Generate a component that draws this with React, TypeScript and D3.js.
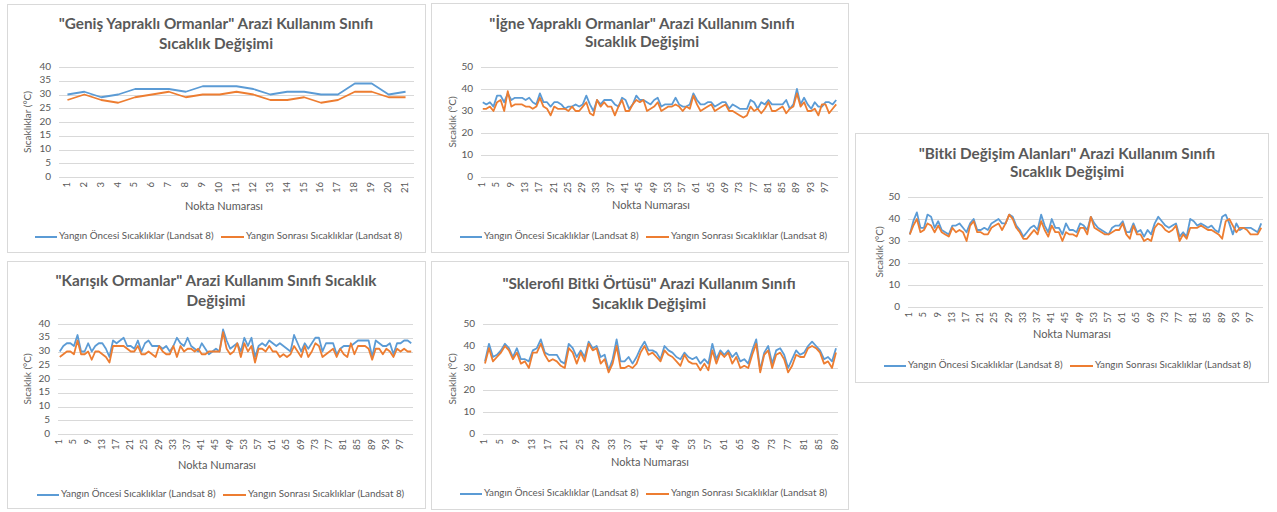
import { useMemo } from 'react';
import * as d3 from 'd3';

const W = 1277;
const H = 512;

const BLUE = '#5b9bd5';
const ORANGE = '#ed7d31';
const TEXT = '#595959';
const GRID = '#d9d9d9';
const FONT = 'Lato, Carlito, "Open Sans", sans-serif';

// --- data ---
const genisBefore = [30, 31, 29, 30, 32, 32, 32, 31, 33, 33, 33, 32, 30, 31, 31, 30, 30, 34, 34, 30, 31];
const genisAfter = [28, 30, 28, 27, 29, 30, 31, 29, 30, 30, 31, 30, 28, 28, 29, 27, 28, 31, 31, 29, 29];

const igneBefore = [
  34, 33, 34, 32, 37, 37, 34, 38, 35, 36,
  36, 36, 35, 36, 34, 33, 38, 34, 34, 32,
  34, 34, 33, 31, 32, 32, 33, 32, 33, 37,
  33, 30, 35, 33, 35, 35, 35, 33, 32, 36,
  35, 31, 33, 37, 35, 35, 34, 33, 35, 36,
  32, 33, 33, 33, 36, 33, 32, 32, 33, 38,
  35, 33, 33, 34, 34, 32, 33, 34, 34, 31,
  33, 32, 31, 31, 31, 35, 34, 31, 34, 33,
  35, 33, 33, 33, 33, 35, 31, 33, 40, 33,
  36, 33, 31, 34, 32, 32, 34, 34, 33, 35,
];
const igneAfter = [
  31, 31, 32, 30, 34, 35, 30, 39, 32, 33,
  33, 33, 32, 32, 31, 32, 36, 32, 31, 28,
  32, 31, 31, 31, 30, 32, 30, 30, 32, 34,
  29, 28, 35, 32, 34, 32, 32, 28, 32, 35,
  30, 30, 33, 35, 34, 35, 30, 31, 32, 34,
  30, 31, 32, 32, 33, 32, 30, 32, 31, 37,
  33, 30, 31, 32, 33, 30, 31, 32, 33, 30,
  30, 29, 28, 27, 28, 32, 30, 31, 29, 31,
  34, 30, 30, 31, 32, 29, 31, 32, 38, 32,
  34, 30, 30, 31, 28, 33, 33, 29, 31, 33,
];

const bitkiBefore = [
  33, 39, 43, 36, 36, 42, 41, 36, 39, 35,
  34, 33, 37, 37, 38, 36, 34, 38, 40, 35,
  35, 36, 35, 38, 39, 40, 38, 38, 42, 41,
  37, 35, 32, 34, 36, 37, 35, 42, 37, 34,
  40, 36, 36, 33, 38, 35, 35, 34, 38, 37,
  35, 41, 38, 36, 35, 34, 33, 36, 37, 37,
  39, 34, 34, 38, 34, 35, 32, 35, 33, 38,
  41, 39, 37, 36, 37, 38, 32, 34, 32, 40,
  39, 37, 38, 37, 36, 37, 35, 34, 41, 42,
  38, 33, 38, 35, 36, 36, 36, 35, 34, 38,
];
const bitkiAfter = [
  33, 37, 40, 34, 35, 38, 37, 34, 37, 34,
  33, 32, 36, 34, 35, 34, 30, 37, 39, 34,
  34, 33, 33, 36, 37, 38, 35, 38, 42, 40,
  36, 34, 31, 31, 33, 35, 33, 39, 35, 32,
  37, 34, 34, 30, 34, 33, 33, 32, 36, 36,
  33, 41, 36, 35, 34, 33, 33, 34, 35, 35,
  38, 33, 31, 37, 33, 33, 30, 31, 30, 36,
  38, 37, 35, 34, 35, 37, 30, 33, 31, 36,
  36, 36, 37, 36, 35, 35, 34, 33, 31, 39,
  40, 37, 34, 36, 36, 35, 33, 33, 33, 36,
];

const karisikBefore = [
  30, 32, 33, 33, 32, 36, 30, 30, 33, 30,
  32, 33, 33, 31, 28, 34, 33, 34, 35, 32,
  32, 31, 34, 30, 33, 34, 32, 32, 32, 31,
  32, 30, 32, 35, 33, 32, 35, 32, 31, 30,
  33, 31, 29, 30, 31, 30, 38, 34, 31, 32,
  33, 30, 35, 32, 35, 28, 32, 33, 32, 34,
  33, 32, 33, 32, 31, 30, 36, 33, 30, 33,
  31, 33, 35, 35, 30, 33, 33, 33, 29, 31,
  32, 32, 32, 33, 34, 34, 34, 34, 28, 34,
  33, 32, 32, 33, 29, 33, 33, 34, 34, 33,
];
const karisikAfter = [
  28, 29, 30, 30, 29, 34, 29, 29, 30, 27,
  30, 30, 29, 28, 26, 32, 32, 32, 32, 31,
  30, 30, 32, 29, 29, 30, 29, 28, 32, 30,
  29, 29, 32, 28, 32, 30, 31, 31, 30, 31,
  29, 29, 30, 30, 30, 30, 37, 31, 29, 30,
  33, 28, 33, 30, 32, 26, 31, 31, 30, 32,
  30, 30, 28, 29, 28, 29, 32, 30, 28, 32,
  28, 30, 33, 32, 28, 29, 30, 31, 28, 31,
  29, 28, 33, 29, 32, 32, 32, 31, 27, 31,
  31, 29, 31, 30, 28, 31, 30, 31, 30, 30,
];

const skleroBefore = [
  33, 41, 35, 36, 38, 41, 39, 35, 39, 34,
  34, 33, 38, 39, 43, 37, 36, 36, 36, 33,
  32, 41, 39, 35, 38, 35, 42, 39, 40, 35,
  36, 29, 34, 43, 33, 33, 35, 32, 35, 39,
  42, 38, 38, 37, 34, 40, 38, 37, 35, 34,
  37, 35, 34, 35, 32, 34, 32, 41, 34, 38,
  36, 38, 35, 37, 33, 34, 32, 38, 43, 29,
  37, 40, 32, 38, 39, 36, 30, 34, 38, 36,
  37, 40, 42, 40, 38, 34, 35, 33, 39,
];
const skleroAfter = [
  32, 39, 33, 35, 37, 40, 38, 34, 37, 32,
  33, 30, 37, 37, 41, 36, 33, 34, 33, 31,
  30, 39, 37, 32, 37, 33, 41, 38, 39, 32,
  34, 28, 32, 40, 30, 30, 31, 30, 32, 37,
  40, 36, 37, 35, 33, 38, 36, 35, 33, 31,
  36, 33, 32, 32, 29, 32, 29, 38, 32, 37,
  35, 37, 32, 35, 30, 31, 30, 36, 41, 28,
  36, 38, 30, 36, 37, 34, 28, 31, 36, 35,
  35, 39, 40, 39, 37, 32, 33, 30, 37,
];

const yTicks40 = [0, 5, 10, 15, 20, 25, 30, 35, 40];
const yTicks50 = [0, 10, 20, 30, 40, 50];

const legendLabels = ['Yangın Öncesi Sıcaklıklar (Landsat 8)', 'Yangın Sonrası Sıcaklıklar (Landsat 8)'];
const xTitle = 'Nokta Numarası';

type Panel = {
  title: string[];
  yTitle: string;
  before: number[];
  after: number[];
  yTicks: number[];
  labelStep: number;
  box: { x: number; y: number; w: number; h: number };
  plot: { x0: number; x1: number; y0: number; y1: number };
  titleY: number[];
  titleX: number;
  yTitleX: number;
  xTitleY: number;
  xTitleX: number;
  legendY: number;
  legendX: number;
};

const panels: Panel[] = [
  {
    title: ['"Geniş Yapraklı Ormanlar" Arazi Kullanım Sınıfı', 'Sıcaklık Değişimi'],
    yTitle: 'Sıcaklıklar (°C)',
    before: genisBefore, after: genisAfter, yTicks: yTicks40, labelStep: 1,
    box: { x: 7, y: 4, w: 418, h: 248 },
    plot: { x0: 59, x1: 414, y0: 67, y1: 177 },
    titleY: [25, 45], titleX: 216, yTitleX: 28, xTitleY: 207, xTitleX: 224, legendY: 237, legendX: 218,
  },
  {
    title: ['"İğne Yapraklı Ormanlar" Arazi Kullanım Sınıfı', 'Sıcaklık Değişimi'],
    yTitle: 'Sıcaklık (°C)',
    before: igneBefore, after: igneAfter, yTicks: yTicks50, labelStep: 4,
    box: { x: 431, y: 3, w: 417, h: 249 },
    plot: { x0: 481, x1: 838, y0: 67, y1: 177 },
    titleY: [25, 43], titleX: 642, yTitleX: 453, xTitleY: 206, xTitleX: 651, legendY: 237, legendX: 643,
  },
  {
    title: ['"Bitki Değişim Alanları" Arazi Kullanım Sınıfı', 'Sıcaklık Değişimi'],
    yTitle: 'Sıcaklık (°C)',
    before: bitkiBefore, after: bitkiAfter, yTicks: yTicks50, labelStep: 4,
    box: { x: 855, y: 133, w: 413, h: 249 },
    plot: { x0: 908, x1: 1263, y0: 197, y1: 307 },
    titleY: [155, 173], titleX: 1067, yTitleX: 880, xTitleY: 335, xTitleX: 1072, legendY: 366, legendX: 1067,
  },
  {
    title: ['"Karışık Ormanlar" Arazi Kullanım Sınıfı Sıcaklık', 'Değişimi'],
    yTitle: 'Sıcaklık (°C)',
    before: karisikBefore, after: karisikAfter, yTicks: yTicks40, labelStep: 4,
    box: { x: 7, y: 261, w: 418, h: 247 },
    plot: { x0: 58, x1: 413, y0: 324, y1: 434 },
    titleY: [282, 302], titleX: 216, yTitleX: 28, xTitleY: 466, xTitleX: 217, legendY: 495, legendX: 220,
  },
  {
    title: ['"Sklerofil Bitki Örtüsü" Arazi Kullanım Sınıfı', 'Sıcaklık Değişimi'],
    yTitle: 'Sıcaklık (°C)',
    before: skleroBefore, after: skleroAfter, yTicks: yTicks50, labelStep: 4,
    box: { x: 431, y: 261, w: 417, h: 248 },
    plot: { x0: 483, x1: 838, y0: 324, y1: 434 },
    titleY: [285, 305], titleX: 649, yTitleX: 453, xTitleY: 463, xTitleX: 650, legendY: 494, legendX: 643,
  },
];

const Chart = ({ p }: { p: Panel }) => {
  const n = p.before.length;
  const cats = useMemo(() => d3.range(1, n + 1).map(String), [n]);
  const x = d3.scaleBand().domain(cats).range([p.plot.x0, p.plot.x1]);
  const y = d3.scaleLinear().domain([0, d3.max(p.yTicks)!]).range([p.plot.y1, p.plot.y0]);
  const cx = (i: number) => x(String(i + 1))! + x.bandwidth() / 2;
  const line = d3.line<number>().x((_, i) => cx(i)).y(d => y(d));
  const yMid = (p.plot.y0 + p.plot.y1) / 2;

  return (
    <g fontFamily={FONT} fill={TEXT}>
      <rect x={p.box.x + 0.5} y={p.box.y + 0.5} width={p.box.w} height={p.box.h} fill="#fff" stroke={GRID} />
      {p.title.map((t, i) => (
        <text key={i} x={p.titleX} y={p.titleY[i]} textAnchor="middle" dominantBaseline="middle"
          fontSize={15.3} fontWeight={700}>{t}</text>
      ))}
      {p.yTicks.map(t => (
        <g key={t}>
          <line x1={p.plot.x0} x2={p.plot.x1} y1={Math.round(y(t)) + 0.5} y2={Math.round(y(t)) + 0.5} stroke={GRID} />
          <text x={p.plot.x0 - 8} y={y(t)} textAnchor="end" dominantBaseline="middle" fontSize={10}>{t}</text>
        </g>
      ))}
      {cats.filter((_, i) => i % p.labelStep === 0).map(c => (
        <text key={c} transform={`translate(${x(c)! + x.bandwidth() / 2},${p.plot.y1 + 5}) rotate(-90)`}
          textAnchor="end" dominantBaseline="middle" fontSize={9.5}>{c}</text>
      ))}
      <text transform={`translate(${p.yTitleX},${yMid}) rotate(-90)`} textAnchor="middle"
        dominantBaseline="middle" fontSize={10}>{p.yTitle}</text>
      <text x={p.xTitleX} y={p.xTitleY} textAnchor="middle" dominantBaseline="middle" fontSize={11}>{xTitle}</text>
      <path d={line(p.before)!} fill="none" stroke={BLUE} strokeWidth={1.8} strokeLinejoin="round" />
      <path d={line(p.after)!} fill="none" stroke={ORANGE} strokeWidth={1.8} strokeLinejoin="round" />
      <line x1={p.legendX - 183} x2={p.legendX - 161} y1={p.legendY} y2={p.legendY} stroke={BLUE} strokeWidth={2} />
      <text x={p.legendX - 159} y={p.legendY} dominantBaseline="middle" fontSize={9.8}>{legendLabels[0]}</text>
      <line x1={p.legendX + 3} x2={p.legendX + 26} y1={p.legendY} y2={p.legendY} stroke={ORANGE} strokeWidth={2} />
      <text x={p.legendX + 28} y={p.legendY} dominantBaseline="middle" fontSize={9.8}>{legendLabels[1]}</text>
    </g>
  );
};

export default function App() {
  return (
    <svg width={W} height={H} style={{ position: 'absolute', left: 0, top: 0, background: '#fff' }}>
      {panels.map((p, i) => <Chart key={i} p={p} />)}
    </svg>
  );
}
